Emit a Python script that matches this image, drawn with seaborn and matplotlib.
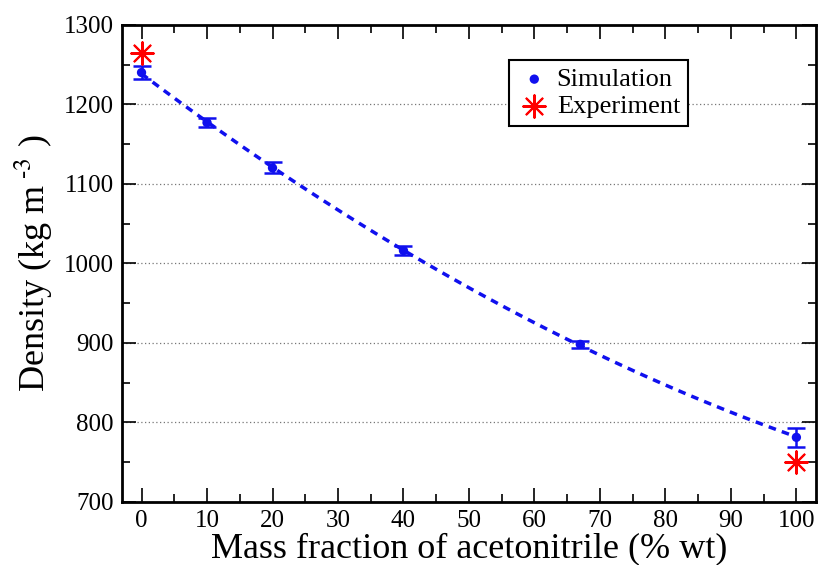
import numpy as np
import pandas as pd
import matplotlib
matplotlib.use("Agg")
import matplotlib.pyplot as plt
import seaborn as sns
from matplotlib.ticker import MultipleLocator

# Data
sim_x = [0, 10, 20, 40, 67, 100]
sim_y = [1240, 1177, 1120, 1016, 898, 781]
sim_err = [8, 6, 7, 6, 4, 12]
exp_x = [0, 100]
exp_y = [1264, 750]

sns.set_theme(style="ticks")
plt.rcParams['font.family'] = ['Liberation Serif', 'DejaVu Serif']
plt.rcParams['mathtext.fontset'] = 'stix'
plt.rcParams['text.color'] = 'black'
plt.rcParams['axes.labelcolor'] = 'black'
plt.rcParams['xtick.color'] = 'black'
plt.rcParams['ytick.color'] = 'black'

fig = plt.figure(figsize=(8.18, 5.65), dpi=100)
ax = fig.add_axes([0.149, 0.112, 0.8486, 0.844])

sim = pd.DataFrame({"x": sim_x, "y": sim_y, "err": sim_err})
exp = pd.DataFrame({"x": exp_x, "y": exp_y})

# fitted dashed curve
sns.regplot(data=sim, x="x", y="y", order=2, ci=None, scatter=False, ax=ax,
            line_kws=dict(color="#1010ee", lw=2.5, ls=(0, (2.2, 1.8))))

ax.errorbar(sim["x"], sim["y"], yerr=sim["err"], fmt="none", ecolor="#1010ee",
            elinewidth=1.8, capsize=6.5, capthick=1.8, zorder=3)
sns.scatterplot(data=sim, x="x", y="y", ax=ax, color="#1010ee", s=45,
                edgecolor="none", label="Simulation", zorder=4)
sns.scatterplot(data=exp, x="x", y="y", ax=ax, color="red", marker=(8, 2, 0),
                s=260, linewidth=1.5, label="Experiment", zorder=5)

ax.set_xlim(-3, 103)
ax.set_ylim(700, 1300)
ax.xaxis.set_major_locator(MultipleLocator(10))
ax.xaxis.set_minor_locator(MultipleLocator(5))
ax.yaxis.set_major_locator(MultipleLocator(100))
ax.yaxis.set_minor_locator(MultipleLocator(50))
ax.tick_params(which="both", direction="in", top=True, right=True, colors="black",
               labelcolor="black", labelsize=18)
ax.tick_params(which="major", length=10, width=1.2, pad=6)
ax.tick_params(which="minor", length=6, width=1.2)
ax.yaxis.grid(True, which="major", color="#777777", ls=(0, (1, 2)), lw=0.9)
for s in ax.spines.values():
    s.set_linewidth(2)
    s.set_color("black")

ax.set_xlabel("Mass fraction of acetonitrile (% wt)", fontsize=26, labelpad=0,
              color="black")
ax.set_ylabel("Density (kg m$^{\\ \\text{-3}}$ )", fontsize=26, labelpad=6,
              color="black")

leg = ax.legend(loc="upper left", bbox_to_anchor=(0.558, 0.927), frameon=True,
                fancybox=False, edgecolor="black", fontsize=19,
                handletextpad=0.2, handlelength=1.3, borderpad=0.3,
                labelspacing=0.12, borderaxespad=0)
leg.get_frame().set_linewidth(1.5)
leg.get_frame().set_alpha(1)
for t in leg.get_texts():
    t.set_color("black")

fig.savefig("out.png", dpi=100)
